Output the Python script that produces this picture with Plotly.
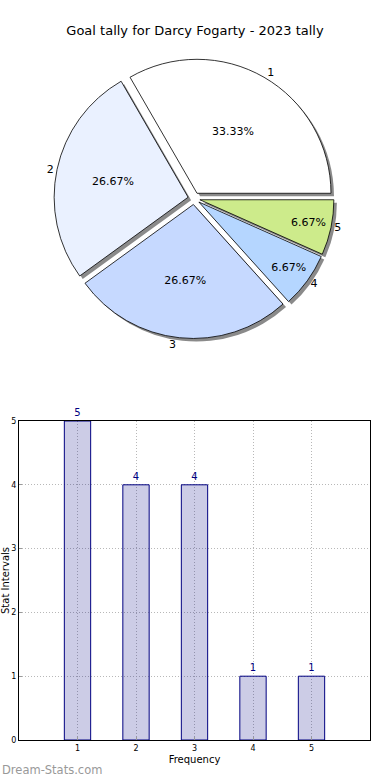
import plotly.graph_objects as go

# ---- data ----
pie_labels = ["1", "2", "3", "4", "5"]
pie_values = [5, 4, 4, 1, 1]
pie_colors = ["#ffffff", "#eaf1ff", "#c6d9ff", "#b5d6ff", "#cdeb8b"]

bar_categories = [1, 2, 3, 4, 5]
bar_values = [5, 4, 4, 1, 1]
y_ticks = [0, 1, 2, 3, 4, 5]

title_text = "Goal tally for Darcy Fogarty - 2023 tally"
FONT = "DejaVu Sans"

W, H = 390, 780
pull = [0.045] * 5
ROT = -30

# pie geometry (pixels)
cx, cy, half = 194, 198.5, 140
dom_x = [(cx - half) / W, (cx + half) / W]
dom_y = [(H - cy - half) / H, (H - cy + half) / H]
sh = 3
dom_x_sh = [dom_x[0] + sh / W, dom_x[1] + sh / W]
dom_y_sh = [dom_y[0] - sh / H, dom_y[1] - sh / H]

fig = go.Figure()

# shadow
fig.add_trace(go.Pie(
    labels=pie_labels, values=pie_values, sort=False, direction="counterclockwise",
    rotation=ROT, pull=pull, domain=dict(x=dom_x_sh, y=dom_y_sh),
    marker=dict(colors=["#8a8a8a"] * 5, line=dict(width=0)),
    textinfo="none", hoverinfo="skip", showlegend=False,
))
# main pie with percentages
fig.add_trace(go.Pie(
    labels=pie_labels, values=pie_values, sort=False, direction="counterclockwise",
    rotation=ROT, pull=pull, domain=dict(x=dom_x, y=dom_y),
    marker=dict(colors=pie_colors, line=dict(color="#000000", width=0.8)),
    texttemplate="%{percent:.2%}", textposition="inside",
    insidetextorientation="horizontal",
    textfont=dict(family=FONT, size=11, color="#000000"),
    showlegend=False,
))
# outside labels (transparent overlay)
fig.add_trace(go.Pie(
    labels=pie_labels, values=pie_values, sort=False, direction="counterclockwise",
    rotation=ROT, pull=pull, domain=dict(x=dom_x, y=dom_y),
    marker=dict(colors=["rgba(0,0,0,0)"] * 5, line=dict(width=0)),
    textinfo="label", textposition="outside",
    outsidetextfont=dict(family=FONT, size=11, color="#000000"),
    hoverinfo="skip", showlegend=False,
))

# bar chart
fig.add_trace(go.Bar(
    x=bar_categories, y=bar_values, width=0.45,
    marker=dict(color="rgba(0,0,128,0.2)", line=dict(color="#000080", width=1)),
    text=[str(v) for v in bar_values], textposition="outside",
    textfont=dict(family=FONT, size=10, color="#000080"),
    cliponaxis=False, showlegend=False, xaxis="x", yaxis="y",
))

GRID_DASH = "1px,2px"
fig.update_layout(
    width=W, height=H,
    margin=dict(l=0, r=0, t=0, b=0, autoexpand=False),
    paper_bgcolor="white", plot_bgcolor="white",
    font=dict(family=FONT, color="#000000"),
    title=dict(text=title_text, x=0.5, xanchor="center", y=1 - 30 / H, yanchor="middle",
               yref="container", automargin=False,
               font=dict(family=FONT, size=13, color="#000000")),
    xaxis=dict(
        domain=[19 / W, 370 / W], range=[0, 6], automargin=False,
        tickvals=bar_categories, ticktext=[str(c) for c in bar_categories],
        tickfont=dict(family=FONT, size=8, color="#000000"),
        showgrid=True, gridcolor="#b8b8b8", griddash=GRID_DASH, gridwidth=1,
        showline=True, linecolor="#000000", linewidth=1, mirror=True,
        ticks="inside", ticklen=3, tickcolor="#999999", zeroline=False,
        title=dict(text="Frequency", font=dict(family=FONT, size=10, color="#000000"), standoff=4),
    ),
    yaxis=dict(
        domain=[(H - 740) / H, (H - 421) / H], range=[0, 5], automargin=False,
        tickvals=y_ticks, ticktext=[str(t) for t in y_ticks],
        tickfont=dict(family=FONT, size=8, color="#000000"),
        showgrid=True, gridcolor="#b8b8b8", griddash=GRID_DASH, gridwidth=1,
        showline=True, linecolor="#000000", linewidth=1, mirror=True,
        ticks="inside", ticklen=3, tickcolor="#999999", zeroline=False,
        title=dict(text="Stat Intervals", font=dict(family=FONT, size=10, color="#000000"), standoff=0),
    ),
    annotations=[dict(
        text="Dream-Stats.com", x=0, y=10 / H, xref="paper", yref="paper",
        xanchor="left", yanchor="middle", showarrow=False,
        font=dict(family=FONT, size=11.5, color="#999999"),
    )],
)

fig.write_html(
    "out.html",
    config={"displayModeBar": False},
    post_script="document.body.style.margin='0';document.body.style.padding='0';"
                "window.dispatchEvent(new Event('resize'));",
)
